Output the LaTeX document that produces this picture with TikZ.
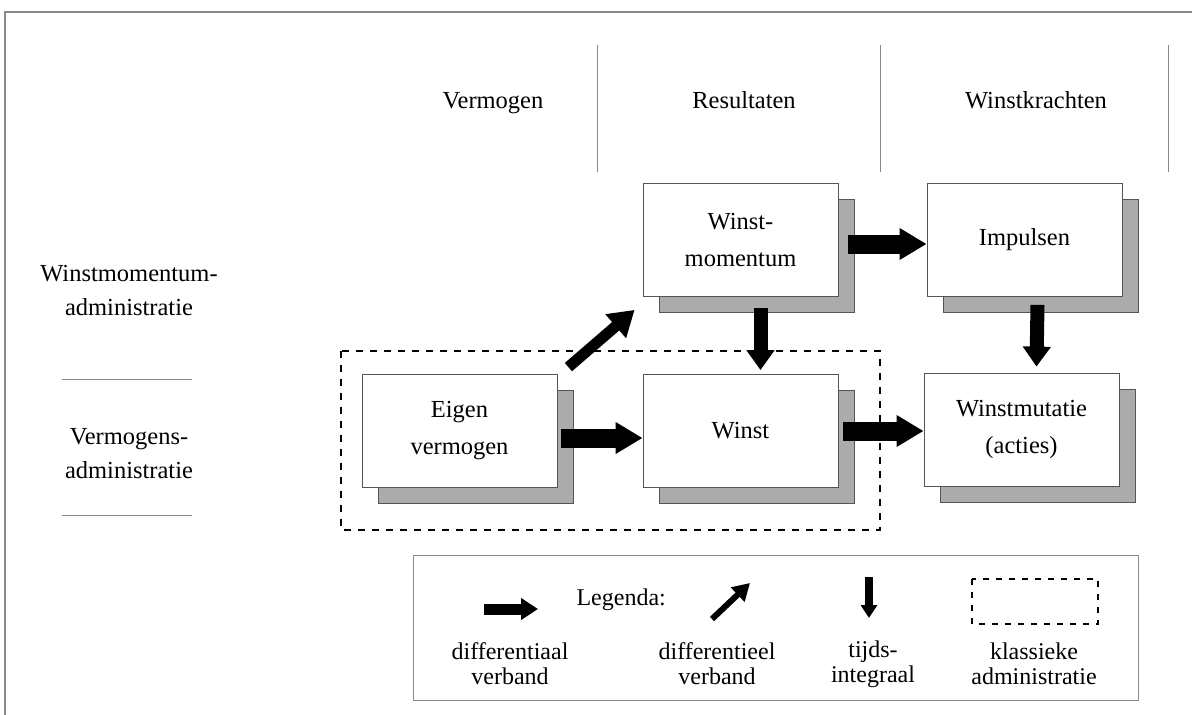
\documentclass[tikz,border=0pt]{standalone}
\usepackage{fontspec}
\setmainfont{Liberation Serif}
\usetikzlibrary{arrows.meta,shadows}
\definecolor{shadowgray}{HTML}{ABABAB}
\definecolor{edgegray}{HTML}{555555}
\definecolor{framegray}{HTML}{888888}
\tikzset{
  mainbox/.style={draw=edgegray, line width=0.8pt, fill=white, minimum width=195pt, minimum height=113pt, align=center, font=\fontsize{24.5}{37}\selectfont,
    copy shadow={shadow xshift=16pt, shadow yshift=-16pt, fill=shadowgray, draw=edgegray, line width=0.6pt}},
  bigarrow/.style={line width=19pt, -{Triangle[length=27pt,width=30pt]}},
  downarrow/.style={line width=14pt, -{Triangle[length=20pt,width=27pt]}},
  diagarrow/.style={line width=11pt, -{Triangle[length=25pt,width=30pt]}},
  lab/.style={font=\fontsize{24.5}{34}\selectfont, align=center},
  leglab/.style={font=\fontsize{24}{25}\selectfont, align=center},
  sep/.style={draw=framegray, line width=0.8pt},
  dashbox/.style={draw=black, line width=1.2pt, dash pattern=on 7pt off 7pt},
}
\begin{document}
\begin{tikzpicture}[x=1pt,y=-1pt]
\useasboundingbox (0,0) rectangle (1192,715);
% outer frame
\draw[framegray, line width=1.2pt] (5,715) -- (5,12) -- (1192,12);
% header
\draw[sep] (597,45) -- (597,172);
\draw[sep] (880,45) -- (880,172);
\draw[sep] (1168,45) -- (1168,172);
\node[lab, anchor=base] (hv) at (493,108) {Vermogen};
\node[lab, anchor=base] (hr) at (744,108) {Resultaten};
\node[lab, anchor=base] (hw) at (1036,108) {Winstkrachten};
% left labels
\node[lab] (lw) at (129,291) {Winstmomentum-\\administratie};
\draw[sep] (62,379) -- (192,379);
\node[lab] (lv) at (129,454) {Vermogens-\\administratie};
\draw[sep] (62,515) -- (192,515);
% dashed classic box
\draw[dashbox] (341,351) rectangle (880,530);
% boxes
\node[mainbox] (wm) at (740.5,240) {Winst-\\momentum};
\node[mainbox] (imp) at (1024.5,240) {Impulsen};
\node[mainbox] (ev) at (459.5,431) {Eigen\\vermogen};
\node[mainbox] (w) at (740.5,431) {Winst};
\node[mainbox] (wmut) at (1021.5,429.5) {Winstmutatie\\(acties)};
% connectors
\draw[bigarrow] ([shift={(4,7)}]ev.east) -- ([shift={(0,7)}]w.west);
\draw[bigarrow] ([xshift=5pt]w.east) -- (w.east -| wmut.west);
\draw[bigarrow] ([shift={(10,4)}]wm.east) -- ([shift={(0,4)}]imp.west);
\draw[downarrow] ([shift={(20,11)}]wm.south) -- ([shift={(20,-4)}]w.north);
\draw[downarrow] ([shift={(13,8)}]imp.south) -- ([shift={(15,-6)}]wmut.north);
\draw[diagarrow] ([shift={(11,-7)}]ev.north east) -- ([shift={(-8,13)}]wm.south west);
% legend
\draw[framegray, line width=1pt, fill=white] (413,555) rectangle (1138,700);
\node[leglab, anchor=base west] (legt) at (573,605) {Legenda:};
\coordinate (l1a) at (484,609); \coordinate (l1b) at (538,609);
\draw[line width=11pt, -{Triangle[length=17pt,width=21pt]}] (l1a) -- (l1b);
\node[leglab] (l1t) at (510,664) {differentiaal\\verband};
\coordinate (l2a) at (712,619); \coordinate (l2b) at (750,583);
\draw[line width=6pt, -{Triangle[length=17pt,width=19pt]}] (l2a) -- (l2b);
\node[leglab] (l2t) at (717,664) {differentieel\\verband};
\coordinate (l3a) at (869,577); \coordinate (l3b) at (869,618);
\draw[line width=8pt, -{Triangle[length=13pt,width=16pt]}] (l3a) -- (l3b);
\node[leglab] (l3t) at (873,664) {tijds-\\integraal};
\draw[line width=1.2pt, dash pattern=on 6pt off 7pt] (972,579) rectangle (1098,624);
\node[leglab] (l4t) at (1034,664) {klassieke\\administratie};
\end{tikzpicture}
\end{document}
